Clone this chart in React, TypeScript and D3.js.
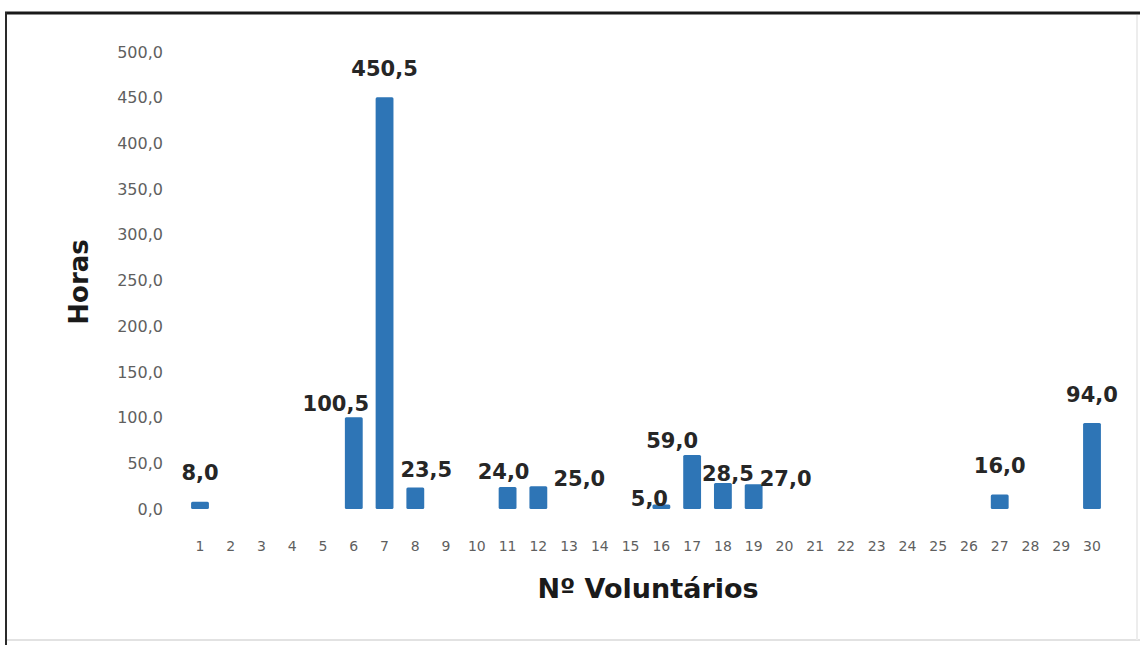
import React from "react";
import * as d3 from "d3";

const categories: string[] = Array.from({ length: 30 }, (_, i) => String(i + 1));
const hours: number[] = [
  8.0, 0, 0, 0, 0, 100.5, 450.5, 23.5, 0, 0,
  24.0, 25.0, 0, 0, 0, 5.0, 59.0, 28.5, 27.0, 0,
  0, 0, 0, 0, 0, 0, 16.0, 0, 0, 94.0,
];
const yTicks: number[] = [0, 50, 100, 150, 200, 250, 300, 350, 400, 450, 500];
const yTitle = "Horas";
const xTitle = "Nº Voluntários";

// manual label nudges (dx, dy) in px, like moved Excel data labels
const labelNudges: Record<string, [number, number]> = {
  "1": [0, -1],
  "6": [-18, 15],
  "8": [11, 10],
  "11": [-4, 13],
  "12": [41, 21],
  "16": [-12, 23],
  "17": [-20, 14],
  "18": [5, 19],
  "19": [32, 23],
};

const W = 1140;
const H = 645;
const fmt = (v: number) => v.toFixed(1).replace(".", ",");

export default function App() {
  const step = (1092 - 200) / 29;
  const x = d3
    .scaleBand<string>()
    .domain(categories)
    .range([200 - step / 2, 1092 + step / 2])
    .paddingInner(0.42)
    .paddingOuter(0.21);
  const y = d3.scaleLinear().domain([0, 500]).range([509, 52]);
  const bw = x.bandwidth();

  return (
    <svg
      width={W}
      height={H}
      style={{ position: "absolute", left: 0, top: 0, background: "#fff" }}
      fontFamily="DejaVu Sans, Verdana, sans-serif"
    >
      <rect x={0} y={0} width={W} height={H} fill="#fff" />
      {/* frame */}
      <line x1={5} x2={W} y1={13} y2={13} stroke="#1a1a1a" strokeWidth={3} />
      <line x1={6} x2={6} y1={12} y2={H} stroke="#2a2a2a" strokeWidth={2} />
      <line x1={7} x2={W} y1={640} y2={640} stroke="#e2e2e2" strokeWidth={2} />
      <line x1={1137} x2={1137} y1={15} y2={640} stroke="#ededed" strokeWidth={2} />

      {/* y tick labels */}
      {yTicks.map((t) => (
        <text
          key={t}
          x={163}
          y={y(t)}
          dy="0.35em"
          textAnchor="end"
          fontSize={16}
          fill="#5f5f5f"
        >
          {fmt(t)}
        </text>
      ))}

      {/* x tick labels */}
      {categories.map((c) => (
        <text
          key={c}
          x={(x(c) as number) + bw / 2}
          y={551}
          textAnchor="middle"
          fontSize={14}
          fill="#5f5f5f"
        >
          {c}
        </text>
      ))}

      {/* bars */}
      {categories.map((c, i) =>
        hours[i] > 0 ? (
          <rect
            key={c}
            x={x(c) as number}
            y={y(hours[i])}
            width={bw}
            height={y(0) - y(hours[i])}
            fill="#2E75B6"
            rx={1.5}
          />
        ) : null
      )}

      {/* value labels */}
      {categories.map((c, i) => {
        if (hours[i] <= 0) return null;
        const [dx, dy] = labelNudges[c] || [0, 0];
        return (
          <text
            key={c}
            x={(x(c) as number) + bw / 2 + dx}
            y={y(hours[i]) - 21 + dy}
            textAnchor="middle"
            fontSize={21}
            fontWeight="bold"
            fill="#262626"
          >
            {fmt(hours[i])}
          </text>
        );
      })}

      {/* axis titles */}
      <text
        transform={`translate(88,282) rotate(-90)`}
        textAnchor="middle"
        fontSize={26}
        fontWeight="bold"
        fill="#1a1a1a"
      >
        {yTitle}
      </text>
      <text
        x={648}
        y={598}
        textAnchor="middle"
        fontSize={27}
        fontWeight="bold"
        fill="#1a1a1a"
      >
        {xTitle}
      </text>
    </svg>
  );
}
